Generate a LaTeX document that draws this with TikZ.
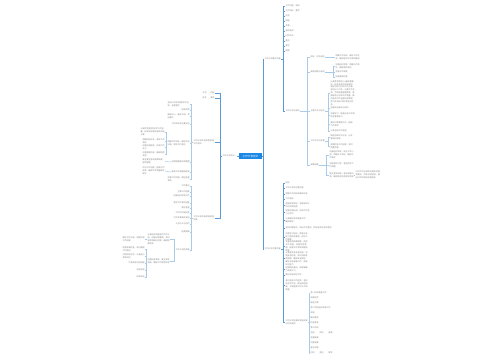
\documentclass[tikz,border=0pt]{standalone}
\usepackage{fontspec}
\newfontfamily\cjk{Noto Sans CJK SC}
\XeTeXlinebreaklocale "zh"
\XeTeXlinebreakskip=0pt plus 0.5pt
\definecolor{trunk}{HTML}{5B9BD5}
\definecolor{twig}{HTML}{A8CBEC}
\definecolor{tg}{HTML}{858585}
\definecolor{rootblue}{HTML}{1E88E5}
\tikzset{
  tx/.style={font=\cjk\fontsize{2}{2.9}\selectfont, text=tg, inner sep=0.3pt, align=left},
  r/.style={tx, anchor=west},
  l/.style={tx, anchor=east},
  tw/.style={text width=#1pt},
  ln/.style={draw=twig, line width=0.5pt},
  tk/.style={draw=trunk, line width=0.7pt},
  rootnode/.style={fill=rootblue, text=white, font=\cjk\fontsize{2.6}{3}\selectfont,
    minimum width=23pt, minimum height=5.5pt, inner sep=0.5pt}
}
\begin{document}
\begin{tikzpicture}[x=1pt,y=-1pt]
\useasboundingbox[fill=white] (0,0) rectangle (500,360);

% ---------- root ----------
\node[rootnode] (root) at (250.5,156) {工作计划范文};

% ---------- right main branches ----------
\node[r] (R1) at (264,59) {工作计划要点内容};
\node[r] (R2) at (264,249) {工作计划主要内容};
\draw[tk] (root.east) -- ++(1,0) |- (R1.west);
\draw[tk] (root.east) -- ++(1,0) |- (R2.west);

% R1 children
\node[r] (k1) at (285,6) {工作内容\hspace{2pt}安排};
\node[r] (k2) at (285,11) {工作目标\hspace{2pt}要求};
\node[r] (k3) at (285,16) {任务};
\node[r] (k4) at (285,21) {措施};
\node[r] (k5) at (285,26) {步骤};
\node[r] (k6) at (285,31) {具体安排};
\node[r] (k7) at (285,36) {时间节点};
\node[r] (k8) at (285,41) {重点};
\node[r] (k9) at (285,46) {要求};
\node[r] (k10) at (285,51) {保障};
\node[r] (R1b) at (285,111) {工作计划与安排};
\foreach \c in {k1,k2,k3,k4,k5,k6,k7,k8,k9,k10,R1b}
  \draw[tk] (R1.east) -- ++(2,0) |- (\c.west);

% R1b children
\node[r] (a1) at (310,57) {目标\hspace{2pt}任务安排};
\node[r] (a2) at (310,72) {具体措施与安排};
\node[r] (a3) at (310,111) {主要工作与任务};
\node[r] (a4) at (310,141) {工作方法与步骤};
\node[r] (a5) at (310,165) {保障措施};
\foreach \c in {a1,a2,a3,a4,a5}
  \draw[ln] (R1b.east) -- ++(7,0) |- (\c.west);

\node[r,tw=24] (a1c) at (335,57) {明确工作目标，细化工作任务，确保各项工作顺利推进};
\draw[ln] (a1.east) -- (a1c.west);

\node[r,tw=24] (a2c1) at (335,66) {加强组织领导，明确工作责任，确保落实到位};
\node[r] (a2c2) at (335,72) {完善工作制度};
\node[r] (a2c3) at (335,77) {加强督促检查};
\foreach \c in {a2c1,a2c2,a2c3}
  \draw[ln] (a2.east) -- ++(8,0) |- (\c.west);

\node[r,tw=24] (b1) at (330,93) {认真贯彻落实上级部署要求，结合本单位实际情况，制定切实可行的工作方案，坚持以人为本，注重工作实效，不断完善管理制度，提高服务水平和工作质量，推动各项工作全面协调发展，努力完成全年各项目标任务。};
\node[r] (b2) at (330,108) {加强队伍建设与培训};
\node[r,tw=24] (b3) at (330,115) {加强学习，提高业务水平和综合素质能力};
\node[r,tw=22] (b4) at (330,124) {做好日常管理工作，提高工作效率};
\node[r] (b5) at (330,131) {认真总结工作经验};
\foreach \c in {b1,b2,b3,b4,b5}
  \draw[ln] (a3.east) -- ++(3,0) |- (\c.west);

\node[r,tw=22] (d1) at (330,137) {制定详细工作计划，分步骤组织实施};
\node[r,tw=22] (d2) at (330,146) {定期检查工作进度，及时调整完善};
\foreach \c in {d1,d2}
  \draw[ln] (a4.east) -- ++(3,0) |- (\c.west);

\node[r,tw=24] (e1) at (329,155) {加强组织领导，成立工作小组，明确分工责任，确保工作落实};
\node[r,tw=24] (e2) at (329,165) {加强宣传引导，营造良好工作氛围};
\node[r,tw=24] (e3) at (329,175) {建立考核机制，强化督查问责，确保各项任务顺利完成};
\foreach \c in {e1,e2,e3}
  \draw[ln] (a5.east) -- ++(7.5,0) |- (\c.west);
\node[r,tw=25] (e3c) at (355,175) {对工作中出现的问题及时研究解决，不断总结经验，推动工作持续改进和提高};
\draw[ln] (e3.east) -- (e3c.west);

% R2 children
\node[r] (c1) at (285,183) {目标};
\node[r] (c2) at (285,188) {工作计划的主要内容};
\node[r] (c3) at (285,194) {明确工作目标和具体任务};
\node[r] (c4) at (285,199) {工作安排};
\node[r,tw=24] (c5) at (285,205) {根据实际情况，合理安排工作时间和进度};
\node[r,tw=24] (c6) at (285,212) {加强沟通协调，形成工作合力与共识};
\node[r,tw=22] (c7) at (285,220) {认真做好各项准备工作，确保顺利};
\node[r] (c8) at (285,228) {坚持问题导向，突出工作重点，抓好各项任务的落实};
\node[r,tw=22] (c9) at (285,237) {加强学习培训，提高业务能力和综合素质，适应工作需要};
\node[r,tw=22] (c10) at (285,246.5) {完善各项规章制度，规范工作流程，加强日常管理，提高工作效率和服务质量};
\node[r,tw=22] (c11) at (285,258.5) {认真落实安全责任制，加强安全检查，及时消除各类隐患，确保安全稳定，做好应急准备工作，提高应对能力};
\node[r,tw=22] (c12) at (285,269.5) {加强团队建设，增强凝聚力和战斗力};
\node[r] (c13) at (285,275) {做好总结评估工作};
\node[r,tw=22] (c14) at (285,285.5) {及时总结工作经验，查找存在的不足，提出改进措施，不断提高工作水平和质量};
\node[r,tw=22] (c15) at (285,322) {工作计划的具体实施步骤与时间安排};
\foreach \c in {c1,c2,c3,c4,c5,c6,c7,c8,c9,c10,c11,c12,c13,c14,c15}
  \draw[tk] (R2.east) -- ++(2,0) |- (\c.west);

% c15 children
\node[r] (f1) at (310,293) {第一阶段准备工作};
\node[r] (f2) at (310,298) {调查研究};
\node[r] (f3) at (310,303) {制定方案};
\node[r] (f4) at (310,308) {第二阶段组织实施工作};
\node[r] (f5) at (310,313) {实施};
\node[r] (f6) at (310,318) {推进落实};
\node[r] (f7) at (310,323) {检查督导};
\node[r] (f8) at (310,328) {第三阶段};
\node[r] (f9) at (310,333) {总结\hspace{5pt}评估\hspace{5pt}提高};
\node[r] (f10) at (310,338) {完善提高};
\node[r] (f11) at (310,343) {巩固成果};
\node[r] (f12) at (310,348) {建立机制};
\node[r] (f13) at (310,353) {时间\hspace{5pt}责任\hspace{5pt}要求};
\foreach \c in {f1,f2,f3,f4,f5,f6,f7,f8,f9,f10,f11,f12,f13}
  \draw[ln] (c15.east) -- ++(1,0) |- (\c.west);

% ---------- left main branch ----------
\node[l] (LM) at (237,156) {工作计划范文一};
\draw[tk] (root.west) -- (LM.east);

\node[l] (La) at (215,93) {计划\hspace{4pt}目标};
\node[l] (Lb) at (215,98) {任务\hspace{4pt}要求};
\node[l,tw=21] (Lc) at (215,142) {工作计划的指导思想和工作目标};
\node[l,tw=21] (Ld) at (215,218) {工作计划的具体安排和实施};
\foreach \c in {La,Lb,Lc,Ld}
  \draw[tk] (LM.west) -- ++(-2,0) |- (\c.east);

% Lc children
\node[l,tw=22] (g1) at (190,104) {坚持以科学发展观为指导，全面落实};
\node[l] (g2) at (190,110) {指导思想};
\node[l,tw=22] (g3) at (190,116) {围绕中心，服务大局，突出重点};
\node[l] (g4) at (190,124) {工作目标和主要任务};
\node[l,tw=22] (g5) at (190,143) {明确工作目标，细化任务分解，落实工作责任};
\node[l] (g6) at (190,162) {加强制度建设和管理};
\node[l] (g7) at (190,172) {提高工作质量和效率};
\node[l,tw=22] (g8) at (190,179) {完善工作机制，强化监督考核};
\foreach \c in {g1,g2,g3,g4,g5,g6,g7,g8}
  \draw[ln] (Lc.west) -- ++(-2,0) |- (\c.east);

\node[l,tw=24] (h1) at (165,132) {认真贯彻落实各项工作部署，结合实际制定具体实施方案};
\node[l,tw=22] (h2) at (165,141) {明确目标任务，落实工作责任};
\node[l,tw=22] (h3) at (165,147) {加强协调配合，形成工作合力};
\node[l,tw=22] (h4) at (165,154) {加强督促检查，确保取得实效};
\foreach \c in {h1,h2,h3,h4}
  \draw[ln] (g5.west) -- ++(-1,0) |- (\c.east);
\node[l,tw=22] (g6c) at (165,161.5) {建立健全各项规章制度，规范管理};
\draw[ln] (g6.west) -- (g6c.east);
\node[l,tw=22] (g7c) at (165,171) {优化工作流程，提高工作效率，确保工作质量稳步提升};
\draw[ln] (g7.west) -- (g7c.east);

% Ld children
\node[l] (m1) at (190,186) {工作重点};
\node[l] (m2) at (190,192) {主要工作措施};
\node[l] (m3) at (190,196) {加强组织领导工作};
\node[l] (m4) at (190,203) {落实工作责任制度};
\node[l] (m5) at (190,208) {强化督查};
\node[l] (m6) at (190,213) {工作时间安排表};
\node[l] (m7) at (190,218) {工作步骤具体安排};
\node[l] (m8) at (190,224) {人员分工与协作};
\node[l] (m9) at (190,232) {经费保障};
\node[l] (Le) at (190,250) {工作计划的实施};
\foreach \c in {m1,m2,m3,m4,m5,m6,m7,m8,m9,Le}
  \draw[ln] (Ld.west) -- ++(-2,0) |- (\c.east);

\node[l,tw=22] (n1) at (170,239) {认真组织实施各项工作计划，加强过程管理，及时发现和解决问题，确保按期完成};
\node[l,tw=22] (n2) at (170,261) {加强检查考核，建立奖惩机制，确保工作取得实效};
\foreach \c in {n1,n2}
  \draw[ln] (Le.west) -- ++(-1,0) |- (\c.east);
\node[l,tw=22] (n1c) at (145,239) {做好工作记录，定期汇报工作进展};
\draw[ln] (n1.west) -- (n1c.east);

\node[l,tw=22] (o1) at (145,249) {定期开展检查，及时通报工作情况};
\node[l,tw=22] (o2) at (145,256) {对照目标任务，认真进行考核评估};
\node[l] (o3) at (145,263) {严格奖惩兑现措施};
\node[l] (o4) at (145,270) {总结经验};
\node[l] (o5) at (145,277) {持续改进};
\foreach \c in {o1,o2,o3,o4,o5}
  \draw[ln] (n2.west) -- ++(-1,0) |- (\c.east);
\end{tikzpicture}
\end{document}
